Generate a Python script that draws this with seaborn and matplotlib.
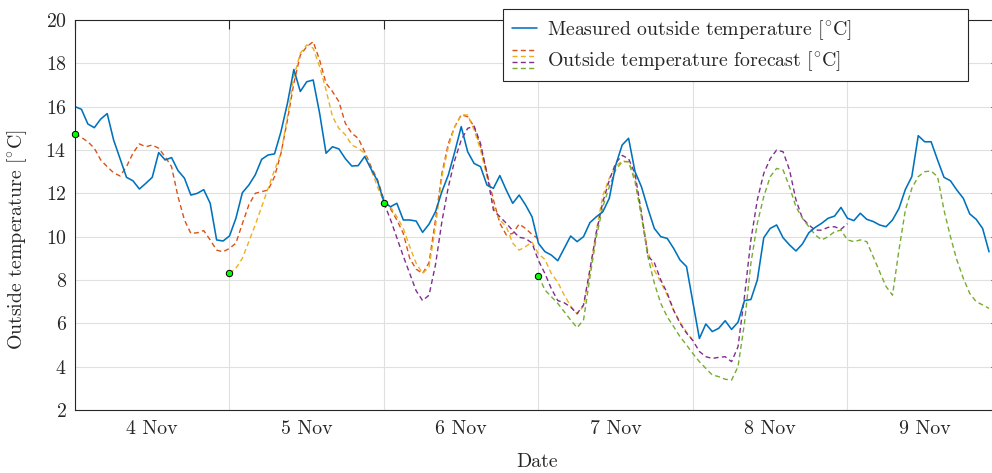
import numpy as np
import pandas as pd
import seaborn as sns
import matplotlib.pyplot as plt
from matplotlib.lines import Line2D
from matplotlib.legend_handler import HandlerBase

# hourly values, starting 4 Nov 00:00
measured = [
    16.0, 15.88, 15.2, 15.03, 15.43, 15.68, 14.46, 13.6, 12.74, 12.58, 12.2, 12.46,
    12.74, 13.88, 13.54, 13.65, 13.05, 12.7, 11.92, 12.0, 12.17, 11.54, 9.85, 9.8,
    10.03, 10.85, 12.03, 12.38, 12.85, 13.57, 13.77, 13.82, 14.85, 16.15, 17.72, 16.7,
    17.15, 17.23, 15.7, 13.85, 14.15, 14.05, 13.6, 13.26, 13.28, 13.7, 13.12, 12.57,
    11.6, 11.38, 11.54, 10.77, 10.77, 10.72, 10.2, 10.58, 11.15, 12.08, 12.85, 13.92,
    15.08, 13.92, 13.38, 13.23, 12.38, 12.23, 12.82, 12.15, 11.54, 11.92, 11.46, 10.92,
    9.69, 9.31, 9.15, 8.89, 9.46, 10.03, 9.77, 10.0, 10.65, 10.92, 11.15, 11.77,
    13.3, 14.23, 14.54, 13.0, 12.3, 11.3, 10.38, 10.0, 9.92, 9.46, 8.92, 8.62,
    6.96, 5.3, 5.97, 5.62, 5.77, 6.12, 5.72, 6.05, 7.05, 7.1, 8.0, 9.95,
    10.38, 10.54, 9.95, 9.62, 9.34, 9.66, 10.18, 10.43, 10.62, 10.85, 10.95, 11.35,
    10.85, 10.74, 11.08, 10.8, 10.7, 10.54, 10.46, 10.77, 11.3, 12.18, 12.77, 14.66,
    14.38, 14.38, 13.54, 12.74, 12.58, 12.15, 11.77, 11.05, 10.8, 10.38, 9.3,
]

# forecasts issued at midnight 4, 5, 6 and 7 Nov
fc_4nov = [
    14.74, 14.58, 14.38, 14.08, 13.54, 13.23, 12.95, 12.8, 13.23, 13.85, 14.28, 14.15,
    14.23, 14.08, 13.69, 13.23, 11.85, 10.77, 10.15, 10.18, 10.28, 9.85, 9.38, 9.3,
    9.46, 9.7, 10.6, 11.46, 12.0, 12.08, 12.15, 12.77, 13.85, 15.38, 17.08, 18.38,
    18.77, 19.0, 18.15, 17.08, 16.7, 16.23, 15.23, 14.77, 14.54, 13.92, 13.23, 12.62,
    11.7, 11.3, 10.77, 10.15, 9.0, 8.5, 8.3, 8.8, 10.77, 12.92, 14.3, 15.08,
    15.62, 15.54, 15.08, 14.15, 12.92, 11.7, 10.62, 10.08, 10.15, 10.58, 10.38, 10.1,
    9.9,
]
fc_5nov = [
    8.3, 8.54, 9.0, 9.77, 10.54, 11.38, 12.23, 13.08, 13.85, 15.54, 17.38, 18.46,
    18.85, 18.7, 17.85, 16.77, 15.54, 15.0, 14.7, 14.23, 14.08, 13.85, 13.08, 12.3,
    11.6, 11.38, 10.92, 10.38, 9.54, 8.77, 8.3, 8.6, 10.46, 12.77, 14.15, 15.08,
    15.62, 15.62, 14.92, 14.0, 12.77, 11.38, 10.77, 10.46, 9.7, 9.38, 9.54, 9.75,
    9.2, 8.95, 8.3, 7.9, 7.3, 6.8, 6.43, 6.8, 8.4, 10.3, 11.9, 12.7,
    13.25, 13.5, 13.45, 12.7, 11.0, 9.3, 8.45, 7.9, 7.3, 6.6, 6.05, 5.6,
    5.2,
]
fc_6nov = [
    11.55, 10.8, 9.95, 9.1, 8.3, 7.5, 7.05, 7.3, 8.7, 10.7, 12.3, 13.54,
    14.46, 15.0, 15.1, 14.3, 12.92, 11.23, 10.92, 10.62, 10.28, 9.97, 9.92, 9.7,
    8.9, 8.3, 7.6, 7.05, 6.95, 6.75, 6.45, 6.85, 8.5, 10.2, 11.6, 12.6,
    13.4, 13.75, 13.6, 12.9, 11.1, 9.1, 8.8, 8.0, 7.4, 6.6, 6.0, 5.55,
    5.2, 4.7, 4.46, 4.38, 4.43, 4.46, 4.23, 4.92, 7.23, 9.85, 11.7, 12.92,
    13.6, 14.0, 13.92, 13.08, 11.7, 10.85, 10.54, 10.3, 10.3, 10.43, 10.46, 10.34,
    10.6,
]
fc_7nov = [
    8.2, 7.54, 7.23, 6.92, 6.54, 6.15, 5.8, 6.15, 8.15, 10.0, 11.38, 12.3,
    13.08, 13.46, 13.46, 12.54, 10.92, 9.08, 7.85, 6.92, 6.3, 5.85, 5.38, 5.0,
    4.6, 4.23, 3.92, 3.62, 3.54, 3.42, 3.38, 4.0, 6.0, 8.77, 10.62, 11.85,
    12.77, 13.15, 13.08, 12.3, 11.38, 10.85, 10.46, 10.08, 9.85, 10.0, 10.23, 10.3,
    9.85, 9.77, 9.85, 9.77, 9.08, 8.38, 7.7, 7.3, 9.38, 11.23, 12.23, 12.77,
    13.0, 13.03, 12.77, 11.23, 10.0, 8.92, 8.08, 7.38, 7.0, 6.85, 6.69,
]
forecasts = [fc_4nov, fc_5nov, fc_6nov, fc_7nov]
fc_starts = ['2023-11-04', '2023-11-05', '2023-11-06', '2023-11-07']
fc_colors = ['#D95319', '#EDB120', '#7E2F8E', '#77AC30']
day_labels = ['4 Nov', '5 Nov', '6 Nov', '7 Nov', '8 Nov', '9 Nov']

blue = '#0072BD'
ink = '#262626'
dash = (0, (3.6, 2.4))
fs = 14.3

sns.set_style('white')
plt.rcParams['font.family'] = ['cmr10', 'DejaVu Serif']
plt.rcParams['mathtext.fontset'] = 'cm'
plt.rcParams['axes.unicode_minus'] = False
plt.rcParams['axes.formatter.use_mathtext'] = True


class StackedLines(HandlerBase):
    # draws the forecast lines stacked on top of each other in one legend entry
    def create_artists(self, legend, orig_handle, xdescent, ydescent,
                       width, height, fontsize, trans):
        n = len(orig_handle)
        step = 0.3 * fontsize
        yc = height / 2 - ydescent
        arts = []
        for i, h in enumerate(orig_handle):
            y = yc + (n - 1) / 2 * step - i * step
            ln = Line2D([-xdescent, width - xdescent], [y, y], color=h.get_color(),
                        lw=h.get_linewidth(), linestyle=dash)
            ln.set_transform(trans)
            arts.append(ln)
        return arts


t0 = pd.Timestamp('2023-11-04')
df_meas = pd.DataFrame({'time': pd.date_range(t0, periods=len(measured), freq='h'),
                        'temp': measured})

fig = plt.figure(figsize=(9.92, 4.73), dpi=100)
ax = fig.add_axes([75 / 992, 63 / 473, 925 / 992, 390 / 473])

fc_lines = []
for start, vals, col in zip(fc_starts, forecasts, fc_colors):
    d = pd.DataFrame({'time': pd.date_range(start, periods=len(vals), freq='h'), 'temp': vals})
    sns.lineplot(data=d, x='time', y='temp', ax=ax, color=col, lw=1.0, linestyle=dash)
    fc_lines.append(ax.lines[-1])

sns.lineplot(data=df_meas, x='time', y='temp', ax=ax, color=blue, lw=1.15)
meas_line = ax.lines[-1]

# forecast start points
starts = pd.to_datetime(fc_starts)
ax.plot(starts, [f[0] for f in forecasts], 'o', ms=4.6, mfc='#00FF00', mec='black',
        mew=0.7, zorder=5, clip_on=False)

ax.set_xlim(t0, t0 + pd.Timedelta(hours=143.7))
ax.set_ylim(2, 20)
ax.set_yticks(np.arange(2, 21, 2))

midnights = pd.date_range(t0, periods=6, freq='D')
noons = midnights + pd.Timedelta(hours=12)
ax.set_xticks(midnights)
ax.set_xticklabels([''] * len(midnights))
ax.set_xticks(noons, minor=True)
ax.set_xticklabels(day_labels, minor=True)

ax.tick_params(which='major', direction='in', length=6.5, width=0.8, color=ink,
               top=True, right=True, labelsize=fs, labelcolor=ink, pad=6)
ax.tick_params(which='minor', length=0, labelsize=fs, labelcolor=ink, pad=7)
ax.grid(True, which='major', color='#e0e0e0', lw=0.8)
ax.set_axisbelow(True)
for s in ax.spines.values():
    s.set_color(ink)
    s.set_linewidth(0.8)

ax.set_xlabel('Date', fontsize=fs, color=ink)
ax.set_ylabel(r'Outside temperature [$^{\circ}$C]', fontsize=fs, color=ink)
ax.xaxis.set_label_coords(0.5, -0.11)
ax.yaxis.set_label_coords(-0.05, 0.436)

# MATLAB-style legend box, wider than its text
leg = ax.legend([meas_line, tuple(fc_lines)],
                [r'Measured outside temperature [$^{\circ}$C]',
                 r'Outside temperature forecast [$^{\circ}$C]'],
                handler_map={tuple: StackedLines()},
                loc='upper left', bbox_to_anchor=(0.4627, 0.5, 0.5027, 0.528),
                mode='expand', borderaxespad=0,
                fontsize=fs, frameon=True, fancybox=False, framealpha=1,
                edgecolor=ink, handlelength=1.26, handletextpad=0.5, borderpad=0.45,
                labelspacing=0.35)
leg.get_frame().set_linewidth(0.8)
for txt in leg.get_texts():
    txt.set_color(ink)

fig.savefig('out.png', dpi=100)
